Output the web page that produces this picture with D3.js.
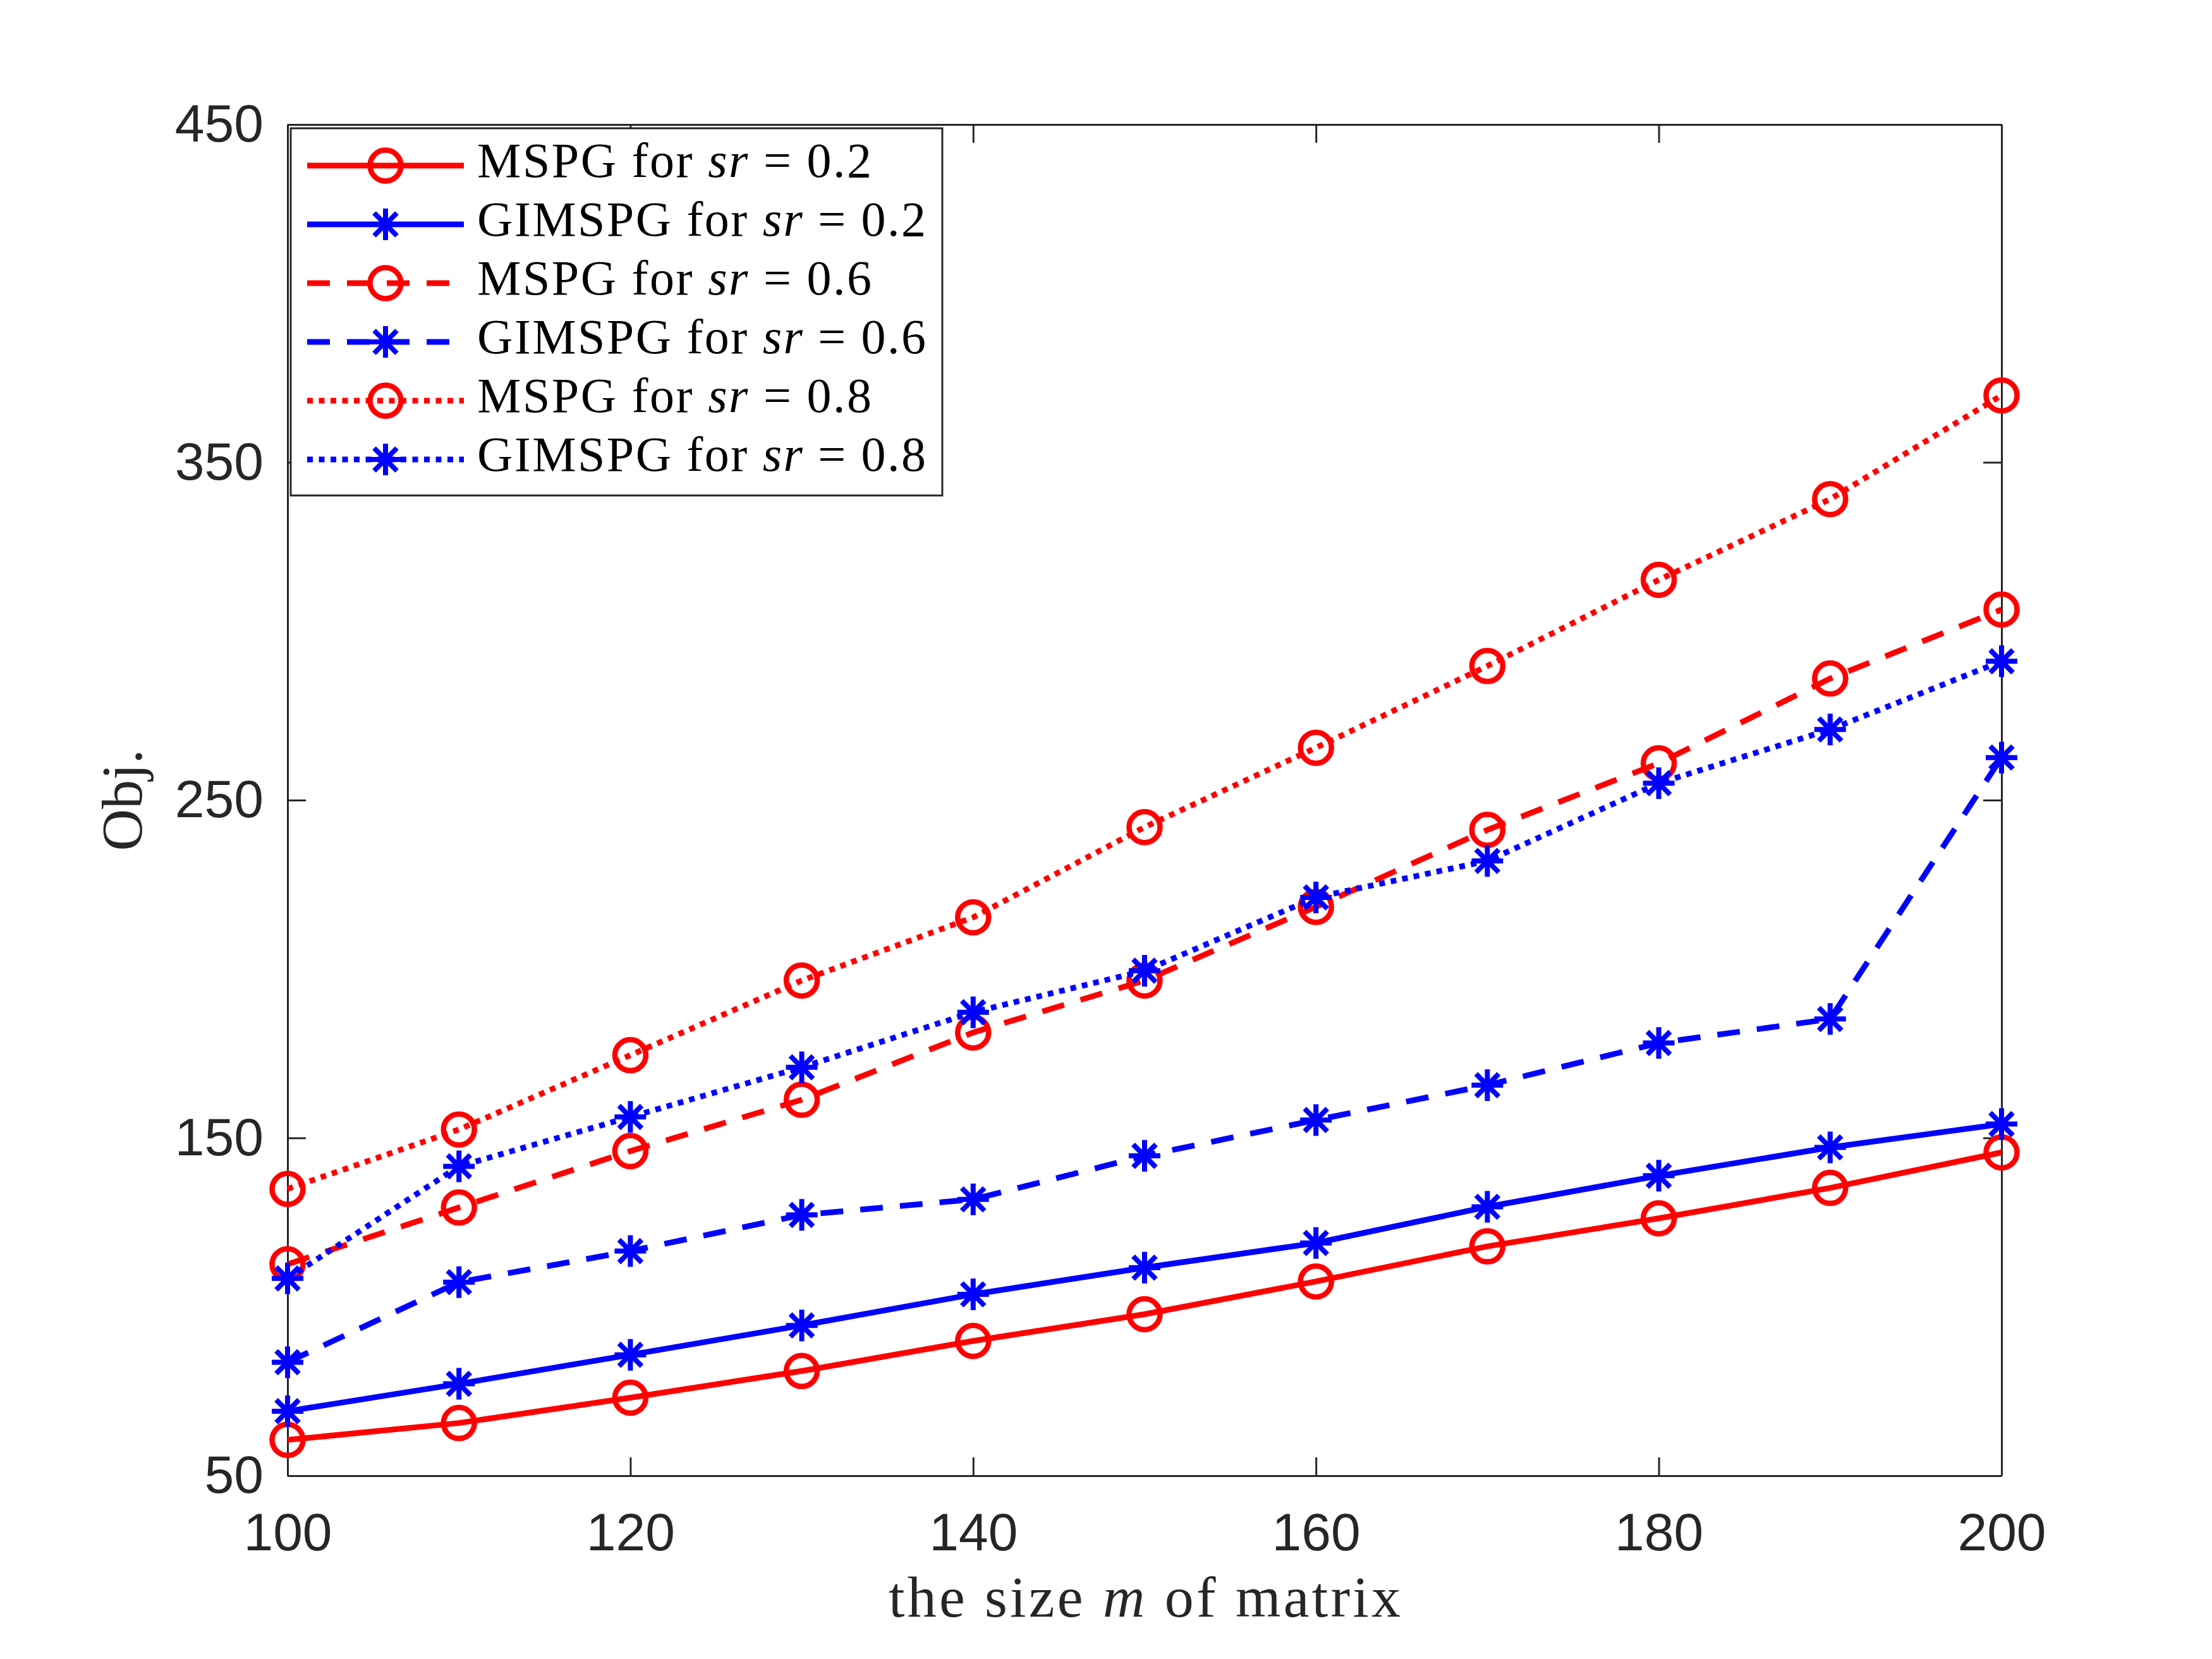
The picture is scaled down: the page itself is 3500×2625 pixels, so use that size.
<!DOCTYPE html>
<html>
<head>
<meta charset="utf-8">
<script src="https://cdn.jsdelivr.net/npm/d3@7"></script>
<style>
  html, body { margin: 0; padding: 0; background: #fff; }
  svg { display: block; }
</style>
</head>
<body>
<div id="chart"></div>
<script>
// 데이터
const sizes = [100, 110, 120, 130, 140, 150, 160, 170, 180, 190, 200];
const mspg02 = [60.6, 65.6, 73.1, 81.0, 89.9, 97.8, 107.5, 117.9, 126.2, 135.2, 145.7];
const gimspg02 = [69.1, 77.2, 85.8, 94.5, 103.7, 111.6, 118.9, 129.6, 138.8, 147.2, 154.1];
const mspg06 = [112.6, 129.4, 146.1, 161.3, 181.2, 196.6, 218.4, 241.2, 260.9, 286.0, 306.4];
const gimspg06 = [83.6, 107.3, 116.5, 127.2, 131.8, 144.7, 155.3, 165.6, 178.1, 185.2, 262.6];
const mspg08 = [134.9, 152.5, 174.5, 196.6, 215.3, 242.0, 265.5, 289.7, 315.2, 339.1, 369.8];
const gimspg08 = [108.4, 141.6, 156.2, 170.9, 187.2, 199.5, 221.2, 232.0, 255.0, 270.9, 291.1];

const methodNames = ["MSPG", "GIMSPG", "MSPG", "GIMSPG", "MSPG", "GIMSPG"];
const srValues = ["0.2", "0.2", "0.6", "0.6", "0.8", "0.8"];
const xTicks = [100, 120, 140, 160, 180, 200];
const yTicks = [50, 150, 250, 350, 450];

// 시리즈 스타일
const series = [
    { name: methodNames[0], sr: srValues[0], values: mspg02,   color: "#FF0000", dash: null,   marker: "circle" },
    { name: methodNames[1], sr: srValues[1], values: gimspg02, color: "#0000FF", dash: null,   marker: "star" },
    { name: methodNames[2], sr: srValues[2], values: mspg06,   color: "#FF0000", dash: "36,27", marker: "circle" },
    { name: methodNames[3], sr: srValues[3], values: gimspg06, color: "#0000FF", dash: "36,27", marker: "star" },
    { name: methodNames[4], sr: srValues[4], values: mspg08,   color: "#FF0000", dash: "9,9.5", marker: "circle" },
    { name: methodNames[5], sr: srValues[5], values: gimspg08, color: "#0000FF", dash: "9,9.5", marker: "star" }
];

const W = 3500, H = 2625;
const plot = { left: 455, right: 3167, top: 197, bottom: 2335 };
const axisColor = "#262626";
const sansFont = "'Liberation Sans', Arial, Helvetica, sans-serif";
const serifFont = "'Liberation Serif', 'Times New Roman', serif";
const lw = 9;

const svg = d3.select("#chart").append("svg")
    .attr("width", W)
    .attr("height", H)
    .attr("viewBox", `0 0 ${W} ${H}`);

svg.append("rect").attr("width", W).attr("height", H).attr("fill", "#fff");

const x = d3.scaleLinear().domain([100, 200]).range([plot.left, plot.right]);
const y = d3.scaleLinear().domain([50, 450]).range([plot.bottom, plot.top]);

// 축
function styleAxis(g) {
    g.select(".domain").attr("stroke", axisColor).attr("stroke-width", 3);
    g.selectAll(".tick line").attr("stroke", axisColor).attr("stroke-width", 3);
    g.selectAll(".tick text")
        .attr("fill", axisColor)
        .attr("font-family", sansFont)
        .attr("font-size", 84);
}

svg.append("g")
    .attr("transform", `translate(0,${plot.bottom})`)
    .call(d3.axisBottom(x).tickValues(xTicks).tickSizeInner(-29).tickSizeOuter(0).tickPadding(58))
    .call(styleAxis);

svg.append("g")
    .attr("transform", `translate(0,${plot.top})`)
    .call(d3.axisTop(x).tickValues(xTicks).tickSizeInner(-29).tickSizeOuter(0).tickFormat(""))
    .call(styleAxis);

svg.append("g")
    .attr("transform", `translate(${plot.left},0)`)
    .call(d3.axisLeft(y).tickValues(yTicks).tickSizeInner(-29).tickSizeOuter(0).tickPadding(38))
    .call(styleAxis);

svg.append("g")
    .attr("transform", `translate(${plot.right},0)`)
    .call(d3.axisRight(y).tickValues(yTicks).tickSizeInner(-29).tickSizeOuter(0).tickFormat(""))
    .call(styleAxis);

// 축 제목
const xLabel = svg.append("text")
    .attr("x", (plot.left + plot.right) / 2)
    .attr("y", 2558)
    .attr("text-anchor", "middle")
    .attr("font-family", serifFont)
    .attr("font-size", 92)
    .attr("fill", axisColor)
    .attr("textLength", 810)
    .attr("lengthAdjust", "spacing");
xLabel.append("tspan").text("the size ");
xLabel.append("tspan").attr("font-style", "italic").text("m");
xLabel.append("tspan").text(" of matrix");

svg.append("text")
    .attr("transform", `translate(224,${(plot.top + plot.bottom) / 2}) rotate(-90)`)
    .attr("text-anchor", "middle")
    .attr("font-family", serifFont)
    .attr("font-size", 92)
    .attr("fill", axisColor)
    .text("Obj.");

// 마커 그리기
const markerR = 24.5;
function drawMarker(g, type, cx, cy, color) {
    if (type === "circle") {
        g.append("circle")
            .attr("cx", cx).attr("cy", cy).attr("r", markerR)
            .attr("fill", "none").attr("stroke", color).attr("stroke-width", 8.5);
    } else {
        const s = 25, d = 18;
        g.append("path")
            .attr("d", `M${cx},${cy - s}V${cy + s}M${cx - s},${cy}H${cx + s}` +
                       `M${cx - d},${cy - d}L${cx + d},${cy + d}M${cx - d},${cy + d}L${cx + d},${cy - d}`)
            .attr("fill", "none").attr("stroke", color).attr("stroke-width", 8);
    }
}

const line = d3.line()
    .x((d, i) => x(sizes[i]))
    .y(d => y(d));

// 데이터 선과 마커
series.forEach(s => {
    const g = svg.append("g");
    g.append("path")
        .datum(s.values)
        .attr("d", line)
        .attr("fill", "none")
        .attr("stroke", s.color)
        .attr("stroke-width", lw)
        .attr("stroke-dasharray", s.dash)
        .attr("stroke-linejoin", "miter");
    s.values.forEach((v, i) => drawMarker(g, s.marker, x(sizes[i]), y(v), s.color));
});

// 범례
const legend = { x0: 460, y0: 203, x1: 1491, y1: 784, rowY: 262, rowGap: 93 };
const lg = svg.append("g");
lg.append("rect")
    .attr("x", legend.x0).attr("y", legend.y0)
    .attr("width", legend.x1 - legend.x0).attr("height", legend.y1 - legend.y0)
    .attr("fill", "#fff").attr("stroke", axisColor).attr("stroke-width", 3);

series.forEach((s, i) => {
    const cy = legend.rowY + i * legend.rowGap;
    lg.append("line")
        .attr("x1", 486).attr("x2", 734)
        .attr("y1", cy).attr("y2", cy)
        .attr("stroke", s.color).attr("stroke-width", lw)
        .attr("stroke-dasharray", s.dash);
    drawMarker(lg, s.marker, 610, cy, s.color);
    const t = lg.append("text")
        .attr("x", 755).attr("y", cy + 18)
        .attr("font-family", serifFont)
        .attr("font-size", 78)
        .attr("fill", "#000")
        .attr("textLength", s.name === "MSPG" ? 624 : 710)
        .attr("lengthAdjust", "spacing");
    t.append("tspan").text(s.name + " for ");
    t.append("tspan").attr("font-style", "italic").text("sr");
    t.append("tspan").text(" = " + s.sr);
});
</script>
</body>
</html>
